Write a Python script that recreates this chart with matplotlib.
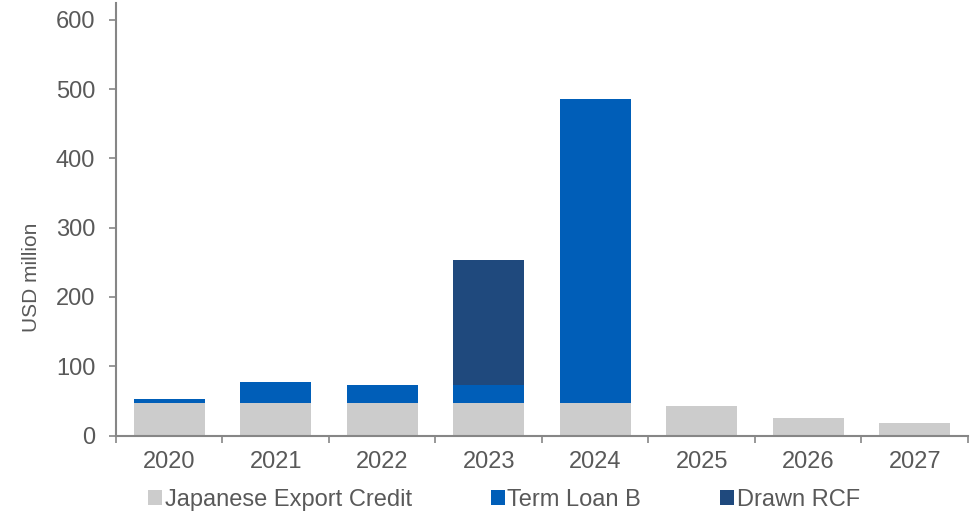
import matplotlib.pyplot as plt
import numpy as np

years = ["2020", "2021", "2022", "2023", "2024", "2025", "2026", "2027"]
jec = [47, 47, 47, 47, 47, 42, 26, 18]
tlb = [5, 30, 26, 26, 438, 0, 0, 0]
rcf = [0, 0, 0, 181, 0, 0, 0, 0]

plt.rcParams["font.family"] = ["Liberation Sans", "DejaVu Sans"]

grey_txt = "#595959"
axis_col = "#868686"

fig = plt.figure(figsize=(9.78, 5.13), dpi=100)
ax = fig.add_axes([116 / 978, 0.151, (968 - 116) / 978, 0.843])

x = np.arange(len(years))
w = 0.67
jec_a = np.array(jec)
tlb_a = np.array(tlb)
ax.bar(x, jec, w, color="#CCCCCC", label="Japanese Export Credit")
ax.bar(x, tlb, w, bottom=jec_a, color="#005EB8", label="Term Loan B")
ax.bar(x, rcf, w, bottom=jec_a + tlb_a, color="#1F497D", label="Drawn RCF")

ax.set_xlim(-0.5, len(years) - 0.5)
ax.set_ylim(0, 624)
ax.set_yticks(range(0, 601, 100))
ax.set_xticks(x)
ax.set_xticklabels(years)
ax.set_xticks(np.arange(-0.5, len(years)), minor=True)
ax.tick_params(axis="x", which="major", length=0, pad=11, labelsize=17, colors=grey_txt)
ax.tick_params(axis="x", which="minor", length=5, width=1.2, color=axis_col)
ax.tick_params(axis="y", length=5, width=1.2, color=axis_col, labelsize=17, labelcolor=grey_txt, pad=10)

for s in ["top", "right"]:
    ax.spines[s].set_visible(False)
for s in ["left", "bottom"]:
    ax.spines[s].set_color(axis_col)
    ax.spines[s].set_linewidth(1.5)

ax.set_ylabel("USD million", fontsize=15, color=grey_txt)
ax.yaxis.set_label_coords(-0.088, 0.365)

fig.legend(loc="center left", bbox_to_anchor=(148 / 978, 0.026), ncol=3, frameon=False,
           fontsize=17, handlelength=0.6, handleheight=0.63, handletextpad=0.1,
           columnspacing=3.35, labelcolor=grey_txt, borderaxespad=0, borderpad=0)

fig.savefig("out.png", dpi=100)
